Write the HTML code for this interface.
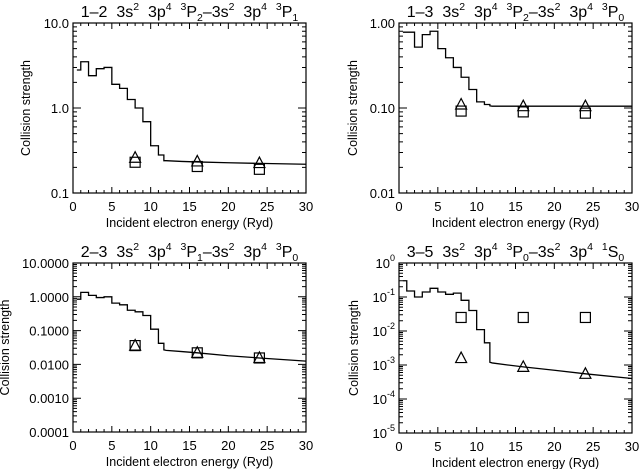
<!DOCTYPE html>
<html><head><meta charset="utf-8"><style>
body{margin:0;background:#fff}
svg{display:block;font-family:"Liberation Sans","DejaVu Sans",sans-serif}
</style></head><body>
<svg id="c" width="639" height="469" viewBox="0 0 639 469" xmlns="http://www.w3.org/2000/svg"></svg>
<script>
// ---- data ----
const stepEdges = [0.5,1,2,3,4,5,6,7,8,9,10,11,11.7];
const tailE = [11.7,12,14,16,20,24,30];
const pointE = [8,16,24];

const p1Steps = [2.8,3.5,2.4,2.9,3.0,1.9,1.7,1.26,1.0,0.69,0.36,0.28];
const p1Tail = [0.24,0.24,0.235,0.232,0.227,0.223,0.218];
const p1Tri = [0.26,0.235,0.225];
const p1Sq = [0.23,0.205,0.19];

const p2Steps = [0.78,0.78,0.52,0.73,0.8,0.5,0.39,0.3,0.23,0.165,0.118,0.11];
const p2Tail = [0.106,0.105,0.105,0.105,0.105,0.105,0.105];
const p2Tri = [0.11,0.105,0.105];
const p2Sq = [0.092,0.09,0.087];

const p3Steps = [0.85,1.35,1.1,0.95,1.0,0.65,0.58,0.4,0.36,0.28,0.11,0.042];
const p3Tail = [0.027,0.026,0.024,0.022,0.018,0.0155,0.0125];
const p3Tri = [0.036,0.022,0.0155];
const p3Sq = [0.036,0.022,0.0155];

const p4Steps = [0.3,0.15,0.1,0.14,0.18,0.14,0.12,0.13,0.08,0.04,0.011,0.0045];
const p4Tail = [0.0012,0.00115,0.001,0.00088,0.0007,0.00055,0.0004];
const p4Tri = [0.0016,0.00088,0.00055];
const p4Sq = [0.025,0.025,0.025];

const xTicks = [0,5,10,15,20,25,30];
const yTicks1 = ["10.0","1.0","0.1"];
const yTicks2 = ["1.00","0.10","0.01"];
const yTicks3 = ["10.0000","1.0000","0.1000","0.0100","0.0010","0.0001"];
const yTicks4 = ["10^0","10^-1","10^-2","10^-3","10^-4","10^-5"];

const NS="http://www.w3.org/2000/svg";
const svg=document.getElementById('c');
function mk(t,a,p){const e=document.createElementNS(NS,t);for(const k in a)e.setAttribute(k,a[k]);(p||svg).appendChild(e);return e;}

function panel(o){
  const g=mk('g',{});
  
  
  const {x0,x1,y0,y1,lmax,lmin}=o;
  const X=v=>x0+(v/30)*(x1-x0);
  const Y=v=>y0+(lmax-Math.log10(v))/(lmax-lmin)*(y1-y0);
  const fr=mk('rect',{x:x0,y:y0,width:x1-x0,height:y1-y0,fill:'none',stroke:'#000','stroke-width':1.2},g);
  
  
  let d='';
  for(let v=0;v<=30;v++){const L=v%5==0?6:3;const px=X(v);d+=`M${px},${y1}v${-L}M${px},${y0}v${L}`;}
  for(let e=lmin;e<=lmax;e++){
    const py=Y(Math.pow(10,e));d+=`M${x0},${py}h8M${x1},${py}h-8`;
    if(e<lmax)for(let m=2;m<=9;m++){const q=Y(m*Math.pow(10,e));d+=`M${x0},${q}h4M${x1},${q}h-4`;}
  }
  const tk=mk('path',{d:d,stroke:'#000','stroke-width':1,fill:'none'},g);
  
  
  xTicks.forEach(v=>{const t=mk('text',{x:X(v),y:y1+18,'font-size':13,'text-anchor':'middle'},g);t.textContent=v;
    
    });
  const xt=mk('text',{x:(x0+x1)/2,y:y1+34,'font-size':12.5,'text-anchor':'middle'},g);xt.textContent='Incident electron energy (Ryd)';
  
  
  o.yt.forEach((s,i)=>{const e=lmax-i;const t=mk('text',{x:x0-4,y:Y(Math.pow(10,e))+5,'font-size':13,'text-anchor':'end'},g);
    if(s.indexOf('^')>=0){const [b,ex]=s.split('^');t.textContent=b;const sp=mk('tspan',{dy:-7,'font-size':9},t);sp.textContent=ex;}
    else t.textContent=s;
    
    });
  const yt=mk('text',{x:0,y:0,'font-size':12.5,'text-anchor':'middle',transform:`translate(${o.ytx},${(y0+y1)/2}) rotate(-90)`},g);yt.textContent='Collision strength';
  
  
  const by=y0-6;
  const tt=mk('text',{x:(x0+x1)/2,y:by,'font-size':16,'text-anchor':'middle'},g);
  
  
  let cur=0;
  o.title.forEach(p=>{
    const off=p[1]=='sup'?-7:(p[1]=='sub'?4:0);
    const s=mk('tspan',{dy:off-cur},tt);s.textContent=p[0];cur=off;
    if(p[1])s.setAttribute('font-size',10.5);
  });
  let ld=`M${X(stepEdges[0])},${Y(o.steps[0])}`;
  o.steps.forEach((v,i)=>{ld+=`L${X(stepEdges[i])},${Y(v)}L${X(stepEdges[i+1])},${Y(v)}`;});
  tailE.forEach((e,i)=>{ld+=`L${X(e)},${Y(o.tail[i])}`;});
  const ln=mk('path',{d:ld,stroke:'#000','stroke-width':1.3,fill:'none'},g);
  
  
  pointE.forEach((e,i)=>{
    const px=X(e),sy=Y(o.sq[i]);
    const r=mk('rect',{x:px-5,y:sy-5,width:10,height:10,fill:'none',stroke:'#000','stroke-width':1.2},g);
    
    
    const ty=Y(o.tri[i]);
    const t=mk('path',{d:`M${px-5.5},${ty+4.5}L${px},${ty-6}L${px+5.5},${ty+4.5}Z`,fill:'none',stroke:'#000','stroke-width':1.2},g);
    
    
  });
}
const S='\u00a0\u00a0';
function title(lbl,a,la,b,lb){return [[lbl+S+'3s'],['2','sup'],[S+'3p'],['4','sup'],[S],[la,'sup'],['P'],[a,'sub'],['\u20133s'],['2','sup'],[S+'3p'],['4','sup'],[S],[lb,'sup'],[b[0]],[b[1],'sub']];}
panel({name:'panel-1-2',x0:73,x1:306,y0:23,y1:193,lmax:1,lmin:-1,yt:yTicks1,ytx:30,steps:p1Steps,tail:p1Tail,tri:p1Tri,sq:p1Sq,title:title('1\u20132','2','3','P1','3')});
panel({name:'panel-1-3',x0:399,x1:632,y0:23,y1:193,lmax:0,lmin:-2,yt:yTicks2,ytx:357,steps:p2Steps,tail:p2Tail,tri:p2Tri,sq:p2Sq,title:title('1\u20133','2','3','P0','3')});
panel({name:'panel-2-3',x0:73,x1:306,y0:263,y1:432,lmax:1,lmin:-4,yt:yTicks3,ytx:9,steps:p3Steps,tail:p3Tail,tri:p3Tri,sq:p3Sq,title:title('2\u20133','1','3','P0','3')});
panel({name:'panel-3-5',x0:399,x1:632,y0:263,y1:433,lmax:0,lmin:-5,yt:yTicks4,ytx:358,steps:p4Steps,tail:p4Tail,tri:p4Tri,sq:p4Sq,title:title('3\u20135','0','3','S0','1')});
</script>
</body></html>
